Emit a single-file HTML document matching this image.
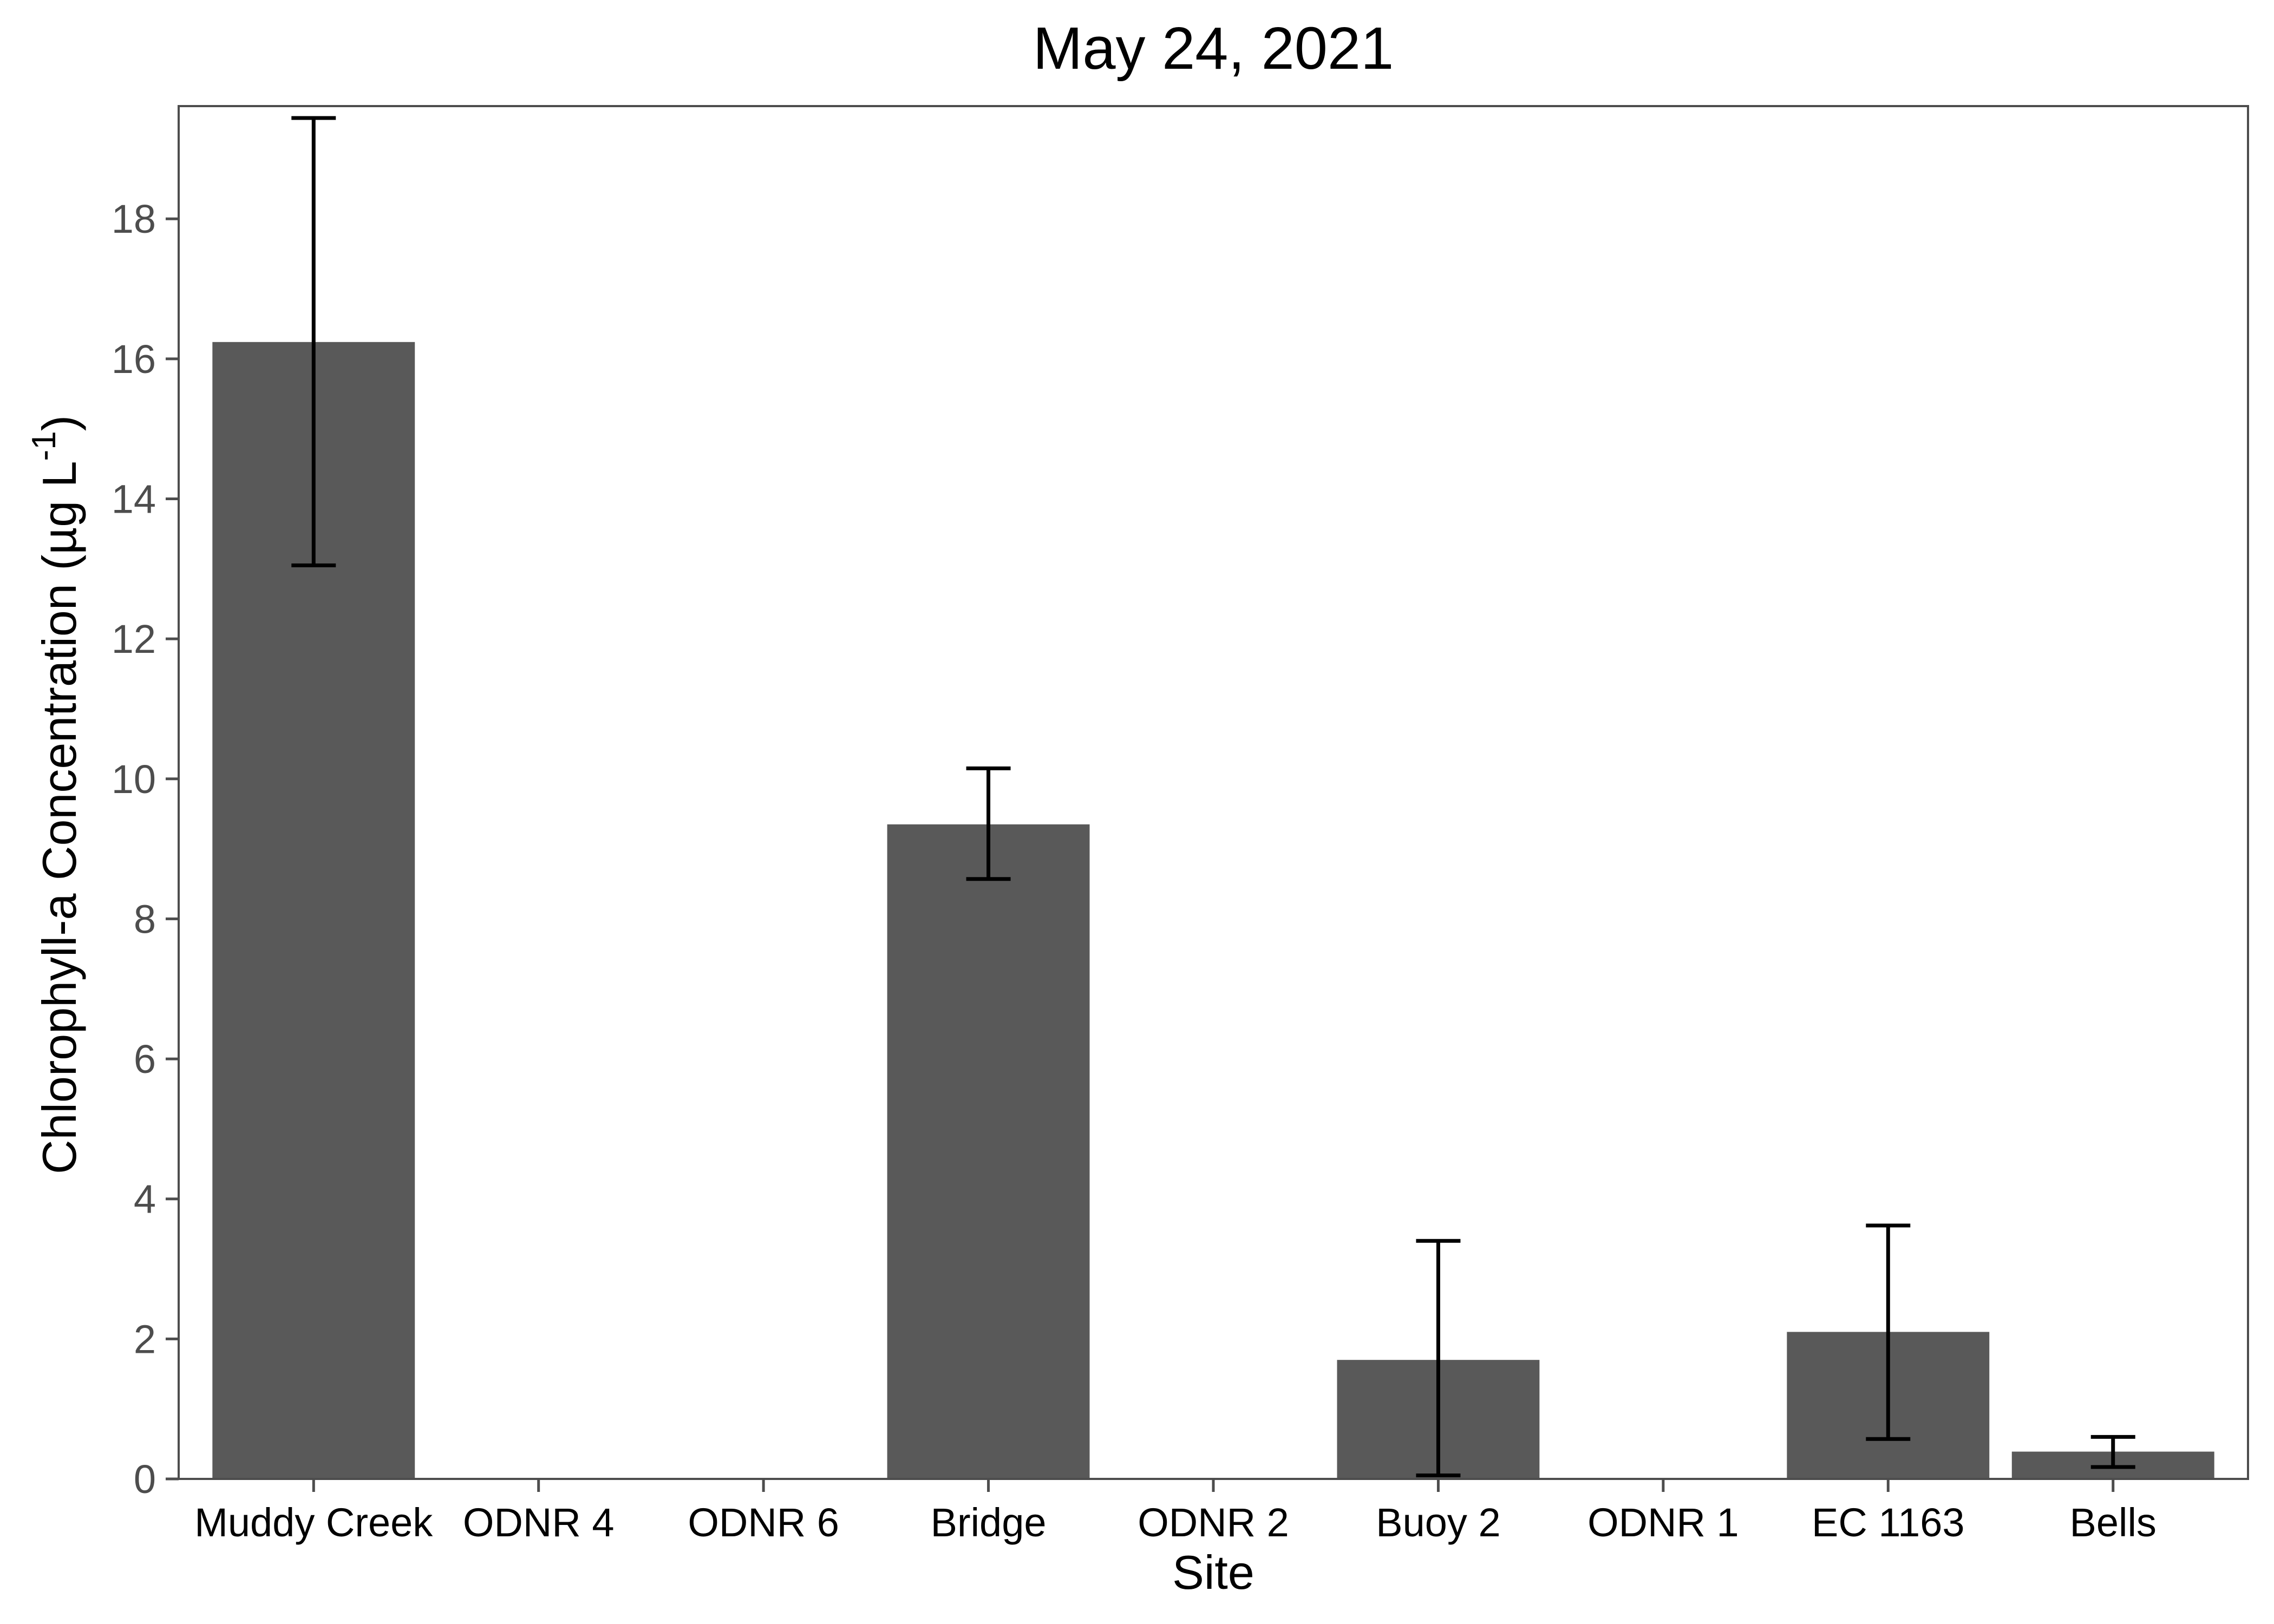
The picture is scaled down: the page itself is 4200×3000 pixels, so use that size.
<!DOCTYPE html>
<html><head><meta charset="utf-8"><style>
html,body{margin:0;padding:0;background:#fff;}
svg{display:block;font-family:"Liberation Sans",Arial,sans-serif;}
</style></head><body>
<svg id="chart" width="4200" height="3000" viewBox="0 0 4200 3000" xmlns="http://www.w3.org/2000/svg">
<rect x="0" y="0" width="4200" height="3000" fill="#fff"/>
<text x="2241" y="127" font-size="110" text-anchor="middle" fill="#000">May 24, 2021</text>
<g id="plot"></g>
<text x="2241" y="2935" font-size="88" text-anchor="middle" fill="#000">Site</text>
<text transform="translate(140,1468) rotate(-90)" font-size="88" text-anchor="middle" fill="#000">Chlorophyll-a Concentration (µg L<tspan font-size="62" dy="-38">-1</tspan><tspan dy="38">)</tspan></text>
</svg>
<script>
const categories = ["Muddy Creek","ODNR 4","ODNR 6","Bridge","ODNR 2","Buoy 2","ODNR 1","EC 1163","Bells"];
const means = [16.24, null, null, 9.35, null, 1.70, null, 2.10, 0.39];
const errUpper = [19.44, null, null, 10.15, null, 3.40, null, 3.62, 0.60];
const errLower = [13.05, null, null, 8.57, null, 0.05, null, 0.57, 0.17];
const yTicks = [0, 2, 4, 6, 8, 10, 12, 14, 16, 18];
const yTickLabels = ["0","2","4","6","8","10","12","14","16","18"];

const NS = "http://www.w3.org/2000/svg";
const L = 330, R = 4152, T = 196, B = 2732;
const yMax = 19.61;
const step = (R - L) / (categories.length + 0.2);
function xScale(i){ return L + step*0.6 + i*step; }
function yScale(v){ return B - v/yMax*(B - T); }
const g = document.getElementById('plot');
function mk(tag, attrs){ const e = document.createElementNS(NS, tag); for (const k in attrs) e.setAttribute(k, attrs[k]); g.appendChild(e); return e; }

const bg = mk('rect',{x:L,y:T,width:R-L,height:B-T,fill:'#fff'});



categories.forEach((c,i)=>{
  const cx = xScale(i);
  if (means[i] != null) {
    const bw = step*0.9;
    const bar = mk('rect',{x:cx-bw/2,y:yScale(means[i]),width:bw,height:yScale(0)-yScale(means[i]),fill:'#595959'});
    
    
  }
});
categories.forEach((c,i)=>{
  const cx = xScale(i);
  if (errUpper[i] != null) {
    const eg = document.createElementNS(NS,'g'); g.appendChild(eg);
    
    
    const yu = yScale(errUpper[i]), yl = yScale(errLower[i]), hw = 41;
    [[cx,yu,cx,yl],[cx-hw,yu,cx+hw,yu],[cx-hw,yl,cx+hw,yl]].forEach(p=>{
      const l = document.createElementNS(NS,'line');
      l.setAttribute('x1',p[0]);l.setAttribute('y1',p[1]);l.setAttribute('x2',p[2]);l.setAttribute('y2',p[3]);
      l.setAttribute('stroke','#000');l.setAttribute('stroke-width','7');
      eg.appendChild(l);
    });
  }
  const t = mk('line',{x1:cx,y1:B,x2:cx,y2:B+24,stroke:'#4d4d4d','stroke-width':5});
  
  
  const lb = mk('text',{x:cx,y:2838,'font-size':74,'text-anchor':'middle',fill:'#000'});
  lb.textContent = c;
  
  
});
yTicks.forEach((v,i)=>{
  const y = yScale(v);
  const t = mk('line',{x1:L-24,y1:y,x2:L,y2:y,stroke:'#4d4d4d','stroke-width':5});
  
  
  const lb = mk('text',{x:288,y:y+26,'font-size':74,'text-anchor':'end',fill:'#4d4d4d'});
  lb.textContent = yTickLabels[i];
  
  
});
const border = mk('rect',{x:L,y:T,width:R-L,height:B-T,fill:'none',stroke:'#4d4d4d','stroke-width':4});


</script>
</body></html>
